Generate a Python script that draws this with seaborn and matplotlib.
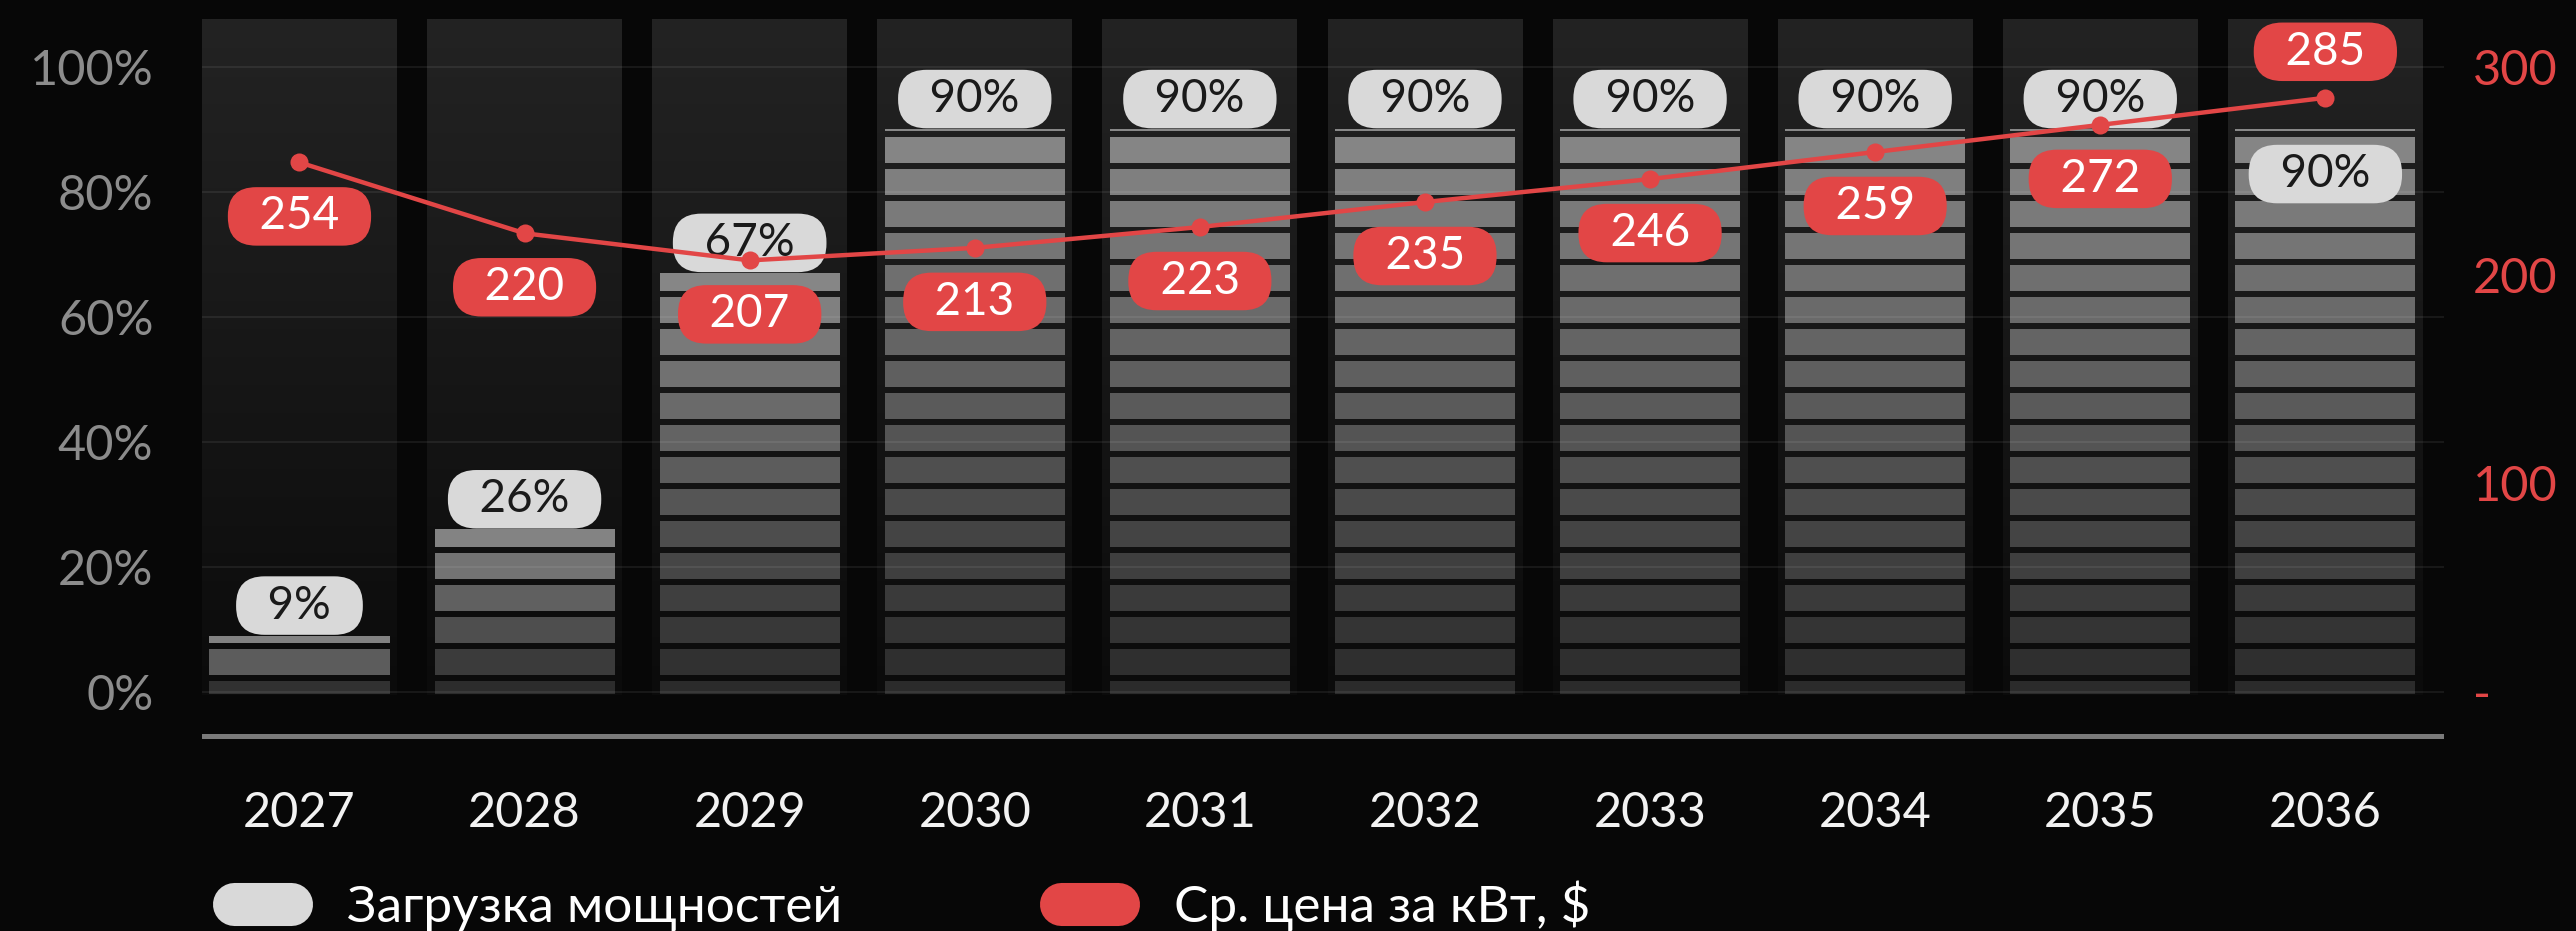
import numpy as np
import seaborn as sns
import matplotlib.pyplot as plt
from matplotlib.colors import LinearSegmentedColormap, to_rgb
from matplotlib.lines import Line2D

# Data
years = ["2027", "2028", "2029", "2030", "2031", "2032", "2033", "2034", "2035", "2036"]
load_pct = [9, 26, 67, 90, 90, 90, 90, 90, 90, 90]
price_kw = [254, 220, 207, 213, 223, 235, 246, 259, 272, 285]
left_ticks = [0, 20, 40, 60, 80, 100]
right_ticks = [0, 100, 200, 300]
right_labels = ["-", "100", "200", "300"]
legend_labels = ["Загрузка мощностей", "Ср. цена за кВт, $"]

RED = "#e24646"
PILL = "#d9d9d9"
BG = "#070707"

sns.set_theme(style="dark", rc={"figure.facecolor": BG, "axes.facecolor": BG,
                                "savefig.facecolor": BG})
plt.rcParams["font.family"] = ["Lato", "DejaVu Sans"]

W, H = 2576, 931
fig = plt.figure(figsize=(W / 100, H / 100), dpi=100)
ax = fig.add_axes([202 / W, 1 - 740 / H, (2444 - 202) / W, (740 - 19) / H])
ax2 = ax.twinx()

n = len(years)
xs = np.arange(n)
ylo, yhi = -7.7, 107.6

# column backgrounds
col_cmap = LinearSegmentedColormap.from_list("col", ["#0b0b0b", "#232323"])
grad = np.linspace(0, 1, 256).reshape(-1, 1)
for i in xs:
    ax.imshow(grad, extent=[i - 0.433, i + 0.433, -0.5, yhi], aspect="auto",
              cmap=col_cmap, origin="lower", zorder=0)

# striped bars
dark, light = np.array(to_rgb("#2a2a2a")), np.array(to_rgb("#888888"))
pitch, stripe = 5.12, 4.16
for i, v in zip(xs, load_pct):
    segs = [(-0.4, 1.7)]
    b = 2.7
    while b < v:
        segs.append((b, min(b + stripe, v)))
        b += pitch
    for lo, hi in segs:
        frac = np.clip((lo + hi) / 2 / v, 0, 1)
        c = dark + (light - dark) * frac
        ax.bar(i, hi - lo, bottom=lo, width=0.8, color=c, linewidth=0, zorder=2)

for t in left_ticks:
    ax.axhline(t, color="white", alpha=0.07, lw=1.5, zorder=3)
ax.axhline(-7.0, color="#7a7a7a", lw=3.6, zorder=3)

# load labels
for i, v in zip(xs, load_pct):
    off = -45 if i == n - 1 else 30
    ax.annotate(f"  {v}%  ", xy=(i, v), xytext=(0, off), textcoords="offset pixels",
                ha="center", va="center", fontsize=33, color="#1a1a1a", zorder=6,
                bbox=dict(boxstyle="round,pad=0.18,rounding_size=0.62", fc=PILL, ec="none"))

ax.set_xlim(-0.433, n - 1 + 0.527)
ax.set_ylim(ylo, yhi)
ax.set_xticks(xs)
ax.set_xticklabels(years, fontsize=35, color="#f2f2f2")
ax.set_yticks(left_ticks)
ax.set_yticklabels([f"{t}%" for t in left_ticks], fontsize=35, color="#8c8c8c")
ax.tick_params(axis="x", length=0, pad=37)
ax.tick_params(axis="y", length=0, pad=35)
ax.grid(False)

# price line
sns.lineplot(x=xs, y=price_kw, ax=ax2, color=RED, lw=3.2, marker="o",
             markersize=13, markeredgewidth=0, zorder=5)
for i, v in zip(xs, price_kw):
    off = 46 if i == n - 1 else -54
    ax2.annotate(f"  {v}  ", xy=(i, v), xytext=(0, off), textcoords="offset pixels",
                 ha="center", va="center", fontsize=33, color="white", zorder=7,
                 bbox=dict(boxstyle="round,pad=0.18,rounding_size=0.62", fc=RED, ec="none"))

ax2.set_ylim(ylo * 3, yhi * 3)
ax2.set_yticks(right_ticks)
ax2.set_yticklabels(right_labels, fontsize=35, color=RED)
ax2.tick_params(axis="y", length=0, pad=21)
ax2.grid(False)
ax2.set_ylabel("")

for a in (ax, ax2):
    for s in a.spines.values():
        s.set_visible(False)

handles = [Line2D([], [], color=PILL, lw=31, solid_capstyle="round"),
           Line2D([], [], color=RED, lw=31, solid_capstyle="round")]
fig.legend(handles, legend_labels, loc="center left", bbox_to_anchor=(208 / W, 1 - 906 / H),
           ncol=2, frameon=False, fontsize=37, handlelength=1.11, handletextpad=1.1,
           columnspacing=4.25, borderpad=0, labelcolor="white")

fig.savefig("out.png", dpi=100)
